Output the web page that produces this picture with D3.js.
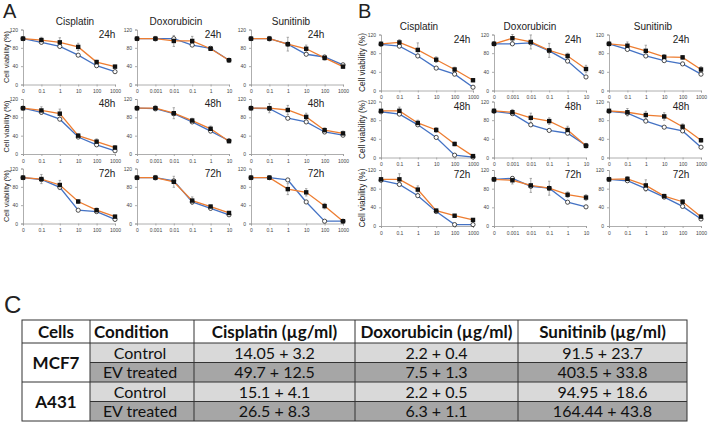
<!DOCTYPE html>
<html>
<head>
<meta charset="utf-8">
<script src="https://cdn.jsdelivr.net/npm/d3@7"></script>
<style>
body{margin:0;background:#fff;}
svg{display:block;font-family:"Liberation Sans",Arial,sans-serif;}
</style>
</head>
<body>
<script>
// ---- data ----
const drugs = ["Cisplatin", "Doxorubicin", "Sunitinib"];
const hours = ["24h", "48h", "72h"];
const doseCis = ["0", "0.1", "1", "10", "100", "1000"];
const doseDox = ["0", "0.001", "0.01", "0.1", "1", "10"];
const doseSun = ["0", "0.1", "1", "10", "100", "1000"];
const yTicks = [0, 40, 80, 120];

// panel A, rows are 24h / 48h / 72h
const aCisBlue   = [[100,92,83,64,41,28],[100,91,76,37,20,7],[100,96,79,29,26,9]];
const aCisOrange = [[100,97,92,82,49,39],[100,95,88,40,27,14],[100,97,84,48,29,15]];
const aCisErr    = [[4,6,10,8,4,3],[3,8,10,4,6,4],[3,10,10,4,5,3]];
const aDoxBlue   = [[100,100,100,86,79,53],[100,99,88,70,50,29],[100,100,93,47,33,19]];
const aDoxOrange = [[100,100,95,95,78,53],[100,100,89,73,55,28],[100,100,91,50,37,23]];
const aDoxErr    = [[4,5,12,10,3,2],[4,6,12,5,6,3],[3,5,12,8,3,2]];
const aSunBlue   = [[100,100,88,66,60,43],[100,99,78,70,48,41],[100,100,95,47,5,5]];
const aSunOrange = [[100,100,88,78,58,39],[100,100,96,81,52,45],[100,100,75,68,38,5]];
const aSunErr    = [[3,5,15,8,5,3],[3,10,10,8,5,5],[3,3,12,8,6,3]];

// panel B
const bCisBlue   = [[99,95,74,48,35,7],[98,93,70,43,5,1],[98,89,65,31,3,3]];
const bCisOrange = [[100,103,87,66,45,22],[100,100,74,59,29,3],[100,100,78,33,22,13]];
const bCisErr    = [[4,6,15,6,5,3],[3,8,6,5,4,2],[3,12,8,3,3,3]];
const bDoxBlue   = [[100,100,102,85,63,29],[99,94,70,58,52,26],[100,102,85,81,51,41]];
const bDoxOrange = [[100,112,104,86,74,46],[100,97,85,78,59,25],[100,98,87,81,67,61]];
const bDoxErr    = [[4,8,15,15,6,8],[4,6,10,7,8,5],[3,8,15,15,6,6]];
const bSunBlue   = [[100,88,74,64,57,35],[99,95,78,65,57,22],[100,97,80,62,42,15]];
const bSunOrange = [[100,96,85,72,71,45],[100,97,91,88,66,37],[100,101,87,64,52,20]];
const bSunErr    = [[3,8,12,5,4,6],[3,8,8,8,6,4],[3,5,12,4,4,4]];

// table C
const tableHead = ["Cells", "Condition", "Cisplatin (µg/ml)", "Doxorubicin (µg/ml)", "Sunitinib (µg/ml)"];
const cellLines = ["MCF7", "A431"];
const conditions = ["Control", "EV treated", "Control", "EV treated"];
const ic50Cis = ["14.05 + 3.2", "49.7 + 12.5", "15.1 + 4.1", "26.5 + 8.3"];
const ic50Dox = ["2.2 + 0.4", "7.5 + 1.3", "2.2 + 0.5", "6.3 + 1.1"];
const ic50Sun = ["91.5 + 23.7", "403.5 + 33.8", "94.95 + 18.6", "164.44 + 43.8"];

const blue = "#4472C4", orange = "#ED7D31";

const svg = d3.select("body").append("svg")
    .attr("width", 709)
    .attr("height", 422);

// one small dose-response plot
function drawPlot(x0, y0, w, h, doses, blueVals, orangeVals, errs, timeLabel, tdx, title, tx) {
    const g = svg.append("g").attr("transform", "translate(" + x0 + "," + y0 + ")");
    const x = d3.scalePoint().domain(doses).range([0, w]);
    const y = d3.scaleLinear().domain([0, 120]).range([h, 0]);

    const ya = g.append("g")
        .call(d3.axisLeft(y).tickValues(yTicks).tickSize(2).tickPadding(3));
    const xa = g.append("g")
        .attr("transform", "translate(0," + h + ")")
        .call(d3.axisBottom(x).tickSize(2).tickPadding(3));
    [ya, xa].forEach(a => {
        a.select(".domain").attr("stroke", "#999").attr("stroke-width", 0.8);
        a.selectAll(".tick line").attr("stroke", "#999").attr("stroke-width", 0.8);
        a.selectAll("text").attr("font-size", 5).attr("fill", "#444").attr("font-family", "Liberation Sans, Arial");
    });

    const pts = doses.map((d, i) => ({d: d, b: blueVals[i], o: orangeVals[i], e: errs[i]}));

    // error bars
    const eb = g.append("g").attr("stroke", "#888").attr("stroke-width", 0.7);
    pts.forEach(p => {
        if (p.e < 2) return;
        const cx = x(p.d);
        eb.append("line").attr("x1", cx).attr("x2", cx).attr("y1", y(p.o + p.e)).attr("y2", y(p.o - p.e));
        eb.append("line").attr("x1", cx - 1.2).attr("x2", cx + 1.2).attr("y1", y(p.o + p.e)).attr("y2", y(p.o + p.e));
        eb.append("line").attr("x1", cx - 1.2).attr("x2", cx + 1.2).attr("y1", y(p.o - p.e)).attr("y2", y(p.o - p.e));
    });

    const lineB = d3.line().x(p => x(p.d)).y(p => y(p.b));
    const lineO = d3.line().x(p => x(p.d)).y(p => y(p.o));
    g.append("path").datum(pts).attr("d", lineB).attr("fill", "none").attr("stroke", blue).attr("stroke-width", 1.3);
    g.append("path").datum(pts).attr("d", lineO).attr("fill", "none").attr("stroke", orange).attr("stroke-width", 1.3);

    g.selectAll(".c").data(pts).join("circle")
        .attr("cx", p => x(p.d)).attr("cy", p => y(p.b)).attr("r", 2.1)
        .attr("fill", "#fff").attr("stroke", "#222").attr("stroke-width", 0.8);
    g.selectAll(".s").data(pts).join("rect")
        .attr("x", p => x(p.d) - 2.2).attr("y", p => y(p.o) - 2.2)
        .attr("width", 4.4).attr("height", 4.4).attr("fill", "#111");

    g.append("text").attr("x", tdx).attr("y", 8).attr("font-size", 10).attr("fill", "#222")
        .attr("text-anchor", "middle").text(timeLabel);

    if (title) {
        g.append("text").attr("x", tx).attr("y", -5).attr("font-size", 10).attr("fill", "#222")
            .attr("text-anchor", "middle").text(title);
    }
}

function drawPanel(letter, lx, colX, rowY, w, h, series, tdx, titleX, yLabX, yLabSize) {
    svg.append("text").attr("x", lx).attr("y", 18).attr("font-size", 20).attr("fill", "#222").text(letter);
    const doseSets = [doseCis, doseDox, doseSun];
    rowY.forEach((ry, r) => {
        svg.append("text")
            .attr("transform", "translate(" + yLabX + "," + (ry + h / 2) + ") rotate(-90)")
            .attr("text-anchor", "middle").attr("font-size", yLabSize).attr("fill", "#222")
            .text("Cell viability (%)");
        colX.forEach((cx, c) => {
            const s = series[c];
            drawPlot(cx, ry, w, h, doseSets[c], s[0][r], s[1][r], s[2][r], hours[r], tdx[c],
                r === 0 ? drugs[c] : null, titleX[c]);
        });
    });
}

drawPanel("A", 3, [23, 137, 251], [29.5, 99, 168.5], 92, 55,
    [[aCisBlue, aCisOrange, aCisErr], [aDoxBlue, aDoxOrange, aDoxErr], [aSunBlue, aSunOrange, aSunErr]],
    [84, 76, 65], [52, 39, 40], 8.5, 7.3);

drawPanel("B", 358, [381, 494, 609], [34.5, 101.5, 170], 92, 56,
    [[bCisBlue, bCisOrange, bCisErr], [bDoxBlue, bDoxOrange, bDoxErr], [bSunBlue, bSunOrange, bSunErr]],
    [81, 79, 72], [38, 36, 44], 365, 8.3);

// ---- table C ----
svg.append("text").attr("x", 4).attr("y", 313).attr("font-size", 24).attr("fill", "#222").text("C");

const colEdges = [22, 90, 194, 355, 518, 687];
const rowEdges = [320, 343, 362.5, 382, 401.5, 421];
const tg = svg.append("g").attr("font-family", "Lato, 'Open Sans', sans-serif").attr("fill", "#111");

const bodyCols = [conditions, ic50Cis, ic50Dox, ic50Sun];
for (let r = 0; r < 4; r++) {
    const fill = r % 2 === 0 ? "#d9d9d9" : "#a6a6a6";
    tg.append("rect").attr("x", colEdges[1]).attr("y", rowEdges[r + 1])
        .attr("width", colEdges[5] - colEdges[1]).attr("height", rowEdges[r + 2] - rowEdges[r + 1])
        .attr("fill", fill);
}
tableHead.forEach((t, i) => {
    tg.append("text").attr("x", i === 1 ? colEdges[1] + 4 : (colEdges[i] + colEdges[i + 1]) / 2)
        .attr("y", (rowEdges[0] + rowEdges[1]) / 2).attr("dy", "0.36em")
        .attr("text-anchor", i === 1 ? "start" : "middle")
        .attr("font-size", 17).attr("font-weight", "bold").text(t);
});
cellLines.forEach((t, i) => {
    tg.append("text").attr("x", (colEdges[0] + colEdges[1]) / 2)
        .attr("y", rowEdges[1 + i * 2 + 1]).attr("dy", "0.36em")
        .attr("text-anchor", "middle").attr("font-size", 17).attr("font-weight", "bold").text(t);
});
bodyCols.forEach((col, c) => {
    col.forEach((t, r) => {
        tg.append("text")
            .attr("x", c === 0 ? (colEdges[1] + colEdges[2]) / 2 - 2 : (colEdges[c + 1] + colEdges[c + 2]) / 2)
            .attr("y", (rowEdges[r + 1] + rowEdges[r + 2]) / 2).attr("dy", "0.36em")
            .attr("text-anchor", "middle")
            .attr("font-size", 16).text(t);
    });
});
// grid lines
const ls = tg.append("g").attr("stroke", "#333").attr("stroke-width", 1);
ls.append("rect").attr("x", colEdges[0]).attr("y", rowEdges[0])
    .attr("width", colEdges[5] - colEdges[0]).attr("height", rowEdges[5] - rowEdges[0]).attr("fill", "none");
colEdges.slice(1, 5).forEach(cx => ls.append("line").attr("x1", cx).attr("x2", cx).attr("y1", rowEdges[0]).attr("y2", rowEdges[5]));
rowEdges.slice(1, 5).forEach((ry, i) => ls.append("line")
    .attr("x1", i === 1 || i === 3 ? colEdges[1] : colEdges[0]).attr("x2", colEdges[5])
    .attr("y1", ry).attr("y2", ry));
</script>
</body>
</html>
